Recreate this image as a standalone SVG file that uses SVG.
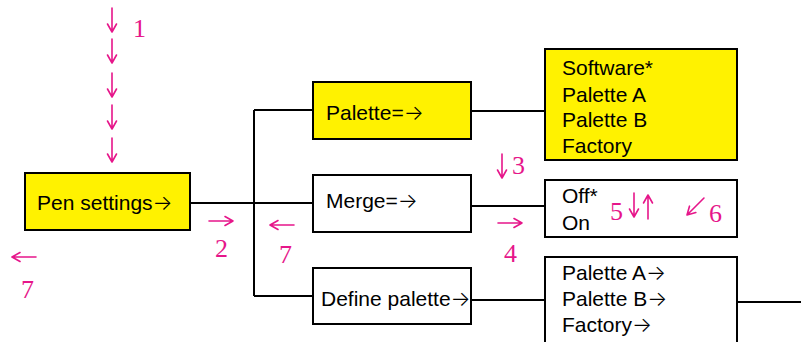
<svg xmlns="http://www.w3.org/2000/svg" width="801" height="342" viewBox="0 0 801 342">
<style>
.box{stroke:#000;stroke-width:2;}
.y{fill:#FFF200;}
.w{fill:#fff;}
.t{font-family:"Liberation Sans",Arial,sans-serif;font-size:21px;fill:#000;}
.a{font-family:Inter,"Noto Sans CJK SC",sans-serif;font-weight:300;}
.p{font-family:"Liberation Serif","Times New Roman",serif;font-size:26px;fill:#E6168A;}
.c{stroke:#000;stroke-width:2;fill:none;}
.pa{stroke:#E6168A;stroke-width:1.6;fill:none;stroke-linecap:round;stroke-linejoin:round;}
</style>
<defs>
<path id="ar" class="pa" d="M0,-24 V0 M-4.5,-8 L0,0 L4.5,-8"/>
</defs>
<rect width="801" height="342" fill="#fff"/>
<g id="connectors">
<path class="c" d="M190,203 H254 M254,110 V296 M254,110 H313 M254,203 H313 M254,296 H313 M471,111 H545 M471,206 H545 M471,300 H545 M737,302 H801"/>
</g>
<g id="pen-settings">
<rect class="box y" x="25" y="173" width="165" height="57"/>
<text class="t" x="37" y="210">Pen settings<tspan class="a">→</tspan></text>
</g>
<g id="palette">
<rect class="box y" x="313" y="82" width="158" height="57"/>
<text class="t" x="326" y="120">Palette=<tspan class="a">→</tspan></text>
</g>
<g id="merge">
<rect class="box w" x="313" y="175" width="158" height="57"/>
<text class="t" x="326" y="208">Merge=<tspan class="a">→</tspan></text>
</g>
<g id="define-palette">
<rect class="box w" x="313" y="268" width="158" height="56"/>
<text class="t" x="321" y="306">Define palette<tspan class="a">→</tspan></text>
</g>
<g id="palette-options">
<rect class="box y" x="545" y="49" width="192" height="111"/>
<text class="t" x="562" y="75">Software*</text>
<text class="t" x="562" y="102">Palette A</text>
<text class="t" x="562" y="127">Palette B</text>
<text class="t" x="562" y="153">Factory</text>
</g>
<g id="merge-options">
<rect class="box w" x="545" y="180" width="192" height="57"/>
<text class="t" x="562" y="203">Off*</text>
<text class="t" x="562" y="230">On</text>
</g>
<g id="define-options">
<rect class="box w" x="545" y="257" width="192" height="100"/>
<text class="t" x="562" y="280">Palette A<tspan class="a">→</tspan></text>
<text class="t" x="562" y="306">Palette B<tspan class="a">→</tspan></text>
<text class="t" x="562" y="332">Factory<tspan class="a">→</tspan></text>
</g>
<g id="annotations">
<use href="#ar" x="112" y="32"/>
<use href="#ar" x="112" y="63"/>
<use href="#ar" x="112" y="97"/>
<use href="#ar" x="112" y="129"/>
<use href="#ar" x="112" y="162"/>
<text class="p" x="133" y="37">1</text>
<use href="#ar" transform="translate(233,221) rotate(-90)"/>
<text class="p" x="215" y="257">2</text>
<use href="#ar" transform="translate(12,257) rotate(90)"/>
<text class="p" x="21" y="298">7</text>
<use href="#ar" transform="translate(270,225) rotate(90)"/>
<text class="p" x="279" y="263">7</text>
<use href="#ar" x="502" y="178"/>
<text class="p" x="512" y="174">3</text>
<use href="#ar" transform="translate(522,223) rotate(-90)"/>
<text class="p" x="504" y="262">4</text>
<text class="p" x="610" y="220">5</text>
<use href="#ar" x="634" y="217"/>
<use href="#ar" transform="translate(648,195) rotate(180)"/>
<use href="#ar" transform="translate(687,215) rotate(45)"/>
<text class="p" x="709" y="222">6</text>
</g>
</svg>
